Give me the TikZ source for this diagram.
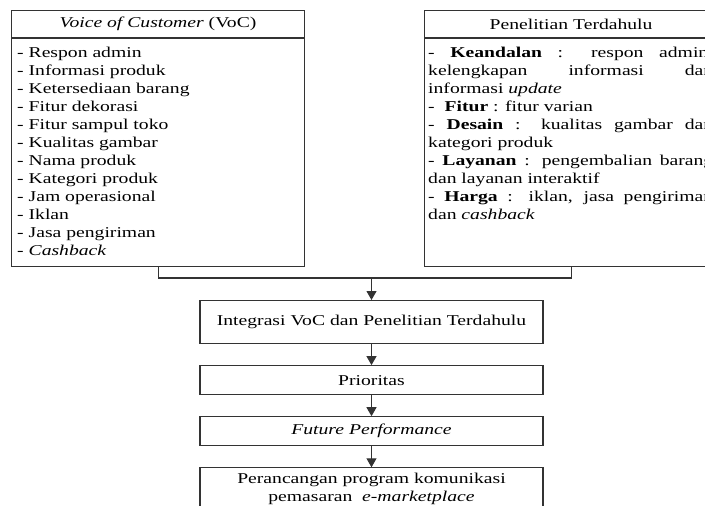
\documentclass[tikz,border=0pt]{standalone}
\usepackage{fontspec}
\setmainfont{Liberation Serif}[FakeStretch=1.31]
\usepackage{tikz}
\usetikzlibrary{arrows.meta, positioning}

\tikzset{
	box/.style = {draw=black!80, line width=1.1pt, inner sep=0pt, anchor=north west},
	title/.style = {box, minimum height=27pt, align=center},
	list/.style = {inner xsep=6pt, inner ysep=0pt, align=left},
	stage/.style = {draw=black!80, line width=1.1pt, minimum width=343pt, align=center},
	link/.style = {draw=black!80, line width=1.1pt},
	flow/.style = {link, -{Triangle[width=10pt,length=9pt]}}
}

\begin{document}
\begin{tikzpicture}[x=1pt, y=-1pt, font=\fontsize{15}{18}\selectfont]
	\def\w{293};
	
	\useasboundingbox (0,0) rectangle (705,506);
	\clip (0,0) rectangle (705,506);
	
	\node[title, minimum width=\w pt] (vochead) at (11,10) {\textit{Voice of Customer} (VoC)};
	\node[box, minimum width=\w pt, minimum height=228pt] (vocbody) at (vochead.south west) {};
	\node[list, below right=9pt and 0pt of vocbody.north west] (voclist) {%
		- Respon admin\\
		- Informasi produk\\
		- Ketersediaan barang\\
		- Fitur dekorasi\\
		- Fitur sampul toko\\
		- Kualitas gambar\\
		- Nama produk\\
		- Kategori produk\\
		- Jam operasional\\
		- Iklan\\
		- Jasa pengiriman\\
		- \textit{Cashback}};
	
	\node[title, minimum width=\w pt] (pthead) at (424,10) {Penelitian Terdahulu};
	\node[box, minimum width=\w pt, minimum height=228pt] (ptbody) at (pthead.south west) {};
	\node[list, inner xsep=4pt, text width=285pt, align=justify, below right=9pt and 0pt of ptbody.north west] (ptlist) {%
		-~\textbf{Keandalan} : respon admin,\linebreak
		kelengkapan informasi dan\linebreak
		informasi \textit{update}\\
		-~~\textbf{Fitur} : fitur varian\\
		- \textbf{Desain} : kualitas gambar dan\linebreak
		kategori produk\\
		- \textbf{Layanan} : pengembalian barang\linebreak
		dan layanan interaktif\\
		- \textbf{Harga} : iklan, jasa pengiriman\linebreak
		dan \textit{cashback}};
	
	\coordinate (join) at (371.5,278);
	\draw[link] (vocbody.south) |- (join) -| (ptbody.south);
	
	\node[stage, minimum height=43pt, below=22pt of join] (integ) {Integrasi VoC dan Penelitian Terdahulu};
	\node[stage, minimum height=29pt, below=21pt of integ] (prio) {Prioritas};
	\node[stage, minimum height=29pt, below=21pt of prio] (future) {\textit{Future Performance}};
	\node[stage, minimum height=48pt, text depth=10pt, below=21pt of future] (design) {Perancangan program komunikasi\\pemasaran~ \textit{e-marketplace}};
	
	\draw[flow] (join) -- (integ);
	\draw[flow] (integ) -- (prio);
	\draw[flow] (prio) -- (future);
	\draw[flow] (future) -- (design);
\end{tikzpicture}
\end{document}
